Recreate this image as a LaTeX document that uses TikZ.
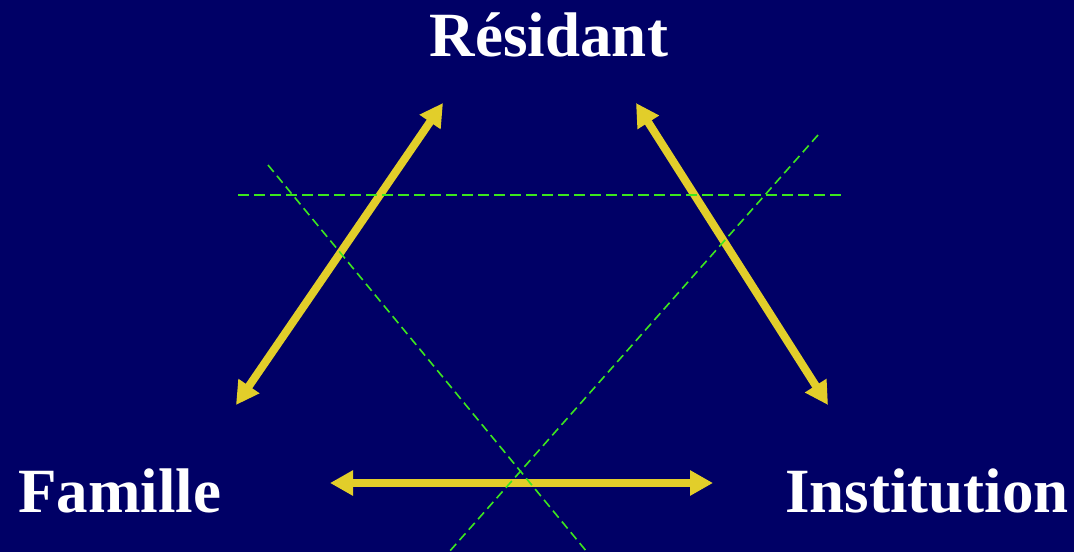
\documentclass[tikz,border=0pt]{standalone}
\usepackage{fontspec}
\setmainfont{Liberation Serif}
\usetikzlibrary{arrows.meta}
\definecolor{bg}{RGB}{0,0,102}
\definecolor{arrowyellow}{RGB}{226,206,42}
\definecolor{dashgreen}{RGB}{60,230,30}
\tikzset{
  label/.style={text=white, inner sep=0pt, font=\fontsize{63}{70}\selectfont\bfseries},
  relarrow/.style={draw=arrowyellow, line width=8pt,
    {Triangle[length=23pt,width=24pt]}-{Triangle[length=23pt,width=24pt]}},
  guide/.style={draw=dashgreen, line width=1.6pt, dash pattern=on 9pt off 5pt},
  guideh/.style={draw=dashgreen, line width=2pt, dash pattern=on 11pt off 5pt}
}
\begin{document}
\begin{tikzpicture}[x=1pt,y=-1pt]
\fill[bg] (0,0) rectangle (1074,552);
\useasboundingbox (0,0) rectangle (1074,552);
\node[label, anchor=base] (res) at (549,56) {Résidant};
\node[label, anchor=base west] (fam) at (18,512) {Famille};
\node[label, anchor=base west] (inst) at (785,512) {Institution};
% arrow end points
\coordinate (a1) at (443,103);
\coordinate (a2) at (236,405);
\coordinate (b1) at (636,103);
\coordinate (b2) at (828,405);
\coordinate (c1) at (330,483);
\coordinate (c2) at (713,483);
\draw[relarrow] (a2) -- (a1);
\draw[relarrow] (b1) -- (b2);
\draw[relarrow] (c1) -- (c2);
% dashed guides
\coordinate (h1) at (238,195);
\coordinate (h2) at (846,195);
\coordinate (d1) at (268,165);
\coordinate (d2) at (587,552);
\coordinate (e1) at (818,135);
\coordinate (e2) at (449,552);
\draw[guideh] (h1) -- (h2);
\draw[guide] (d1) -- (d2);
\draw[guide] (e1) -- (e2);
\end{tikzpicture}
\end{document}
